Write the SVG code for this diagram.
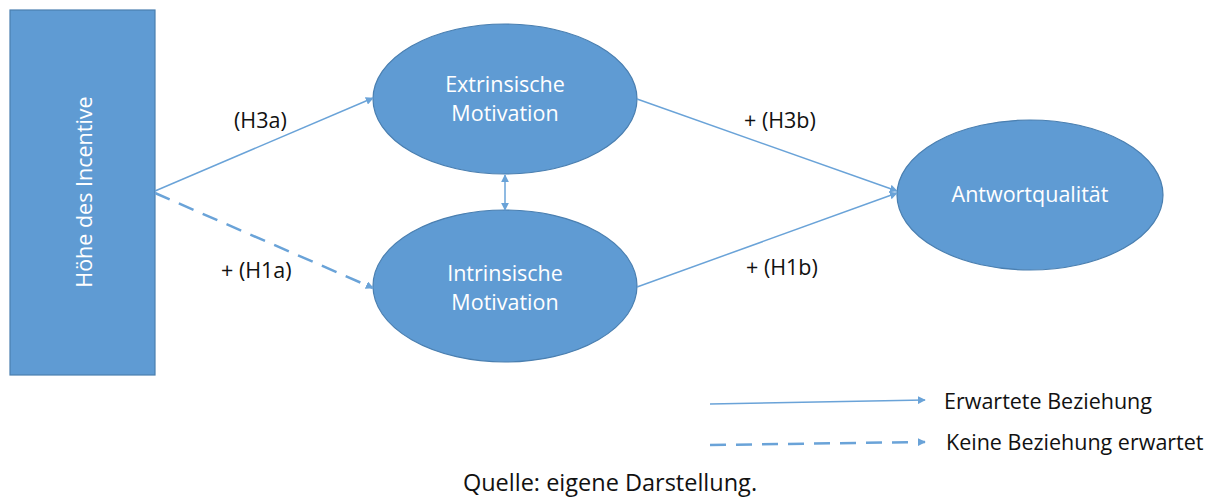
<svg xmlns="http://www.w3.org/2000/svg" width="1218" height="499" viewBox="0 0 1218 499">
<style>
.node{fill:#5f9bd3;stroke:#4a7fb0;stroke-width:1.2}
.nt{font-family:"Open Sans","Liberation Sans",sans-serif;font-size:21.5px;fill:#ffffff;text-anchor:middle}
.lbl{font-family:"Open Sans","Liberation Sans",sans-serif;font-size:21.5px;fill:#111111}
.cap{font-family:"Open Sans","Liberation Sans",sans-serif;font-size:23.5px;fill:#111111;text-anchor:middle}
.c{stroke:#6aa3d8;stroke-width:1.5;fill:none}
.d{stroke:#6aa3d8;stroke-width:2.5;fill:none;stroke-dasharray:16,10}
</style>
<defs>
<marker id="ah" viewBox="0 0 10 10" refX="9" refY="5" markerWidth="8" markerHeight="8" markerUnits="userSpaceOnUse" orient="auto-start-reverse">
<path d="M0,0 L10,5 L0,10 z" fill="#6aa3d8"/>
</marker>
</defs>
<g id="node-hoehe">
<rect class="node" x="10" y="10" width="145" height="365"/>
<text class="nt" transform="translate(92,192) rotate(-90)">Höhe des Incentive</text>
</g>
<g id="node-extrinsisch">
<ellipse class="node" cx="505" cy="99" rx="132" ry="75"/>
<text class="nt" x="505" y="92">Extrinsische</text>
<text class="nt" x="505" y="121">Motivation</text>
</g>
<g id="node-intrinsisch">
<ellipse class="node" cx="505" cy="286" rx="132" ry="76"/>
<text class="nt" x="505" y="281">Intrinsische</text>
<text class="nt" x="505" y="310">Motivation</text>
</g>
<g id="node-antwort">
<ellipse class="node" cx="1030" cy="195" rx="133" ry="75"/>
<text class="nt" x="1030" y="202">Antwortqualität</text>
</g>
<g id="connectors">
<line class="c" x1="155" y1="191" x2="373" y2="98" marker-end="url(#ah)"/>
<line class="d" x1="155" y1="193" x2="373" y2="288" marker-end="url(#ah)"/>
<line class="c" x1="637" y1="99" x2="897" y2="191" marker-end="url(#ah)"/>
<line class="c" x1="637" y1="287" x2="897" y2="193" marker-end="url(#ah)"/>
<line class="c" x1="505" y1="175" x2="505" y2="210" stroke-width="2" marker-start="url(#ah)" marker-end="url(#ah)"/>
<line class="c" x1="710" y1="404" x2="925" y2="400" marker-end="url(#ah)"/>
<line class="d" x1="710" y1="445" x2="925" y2="442" stroke-dasharray="18,9" marker-end="url(#ah)"/>
</g>
<g id="labels">
<text class="lbl" x="234" y="128">(H3a)</text>
<text class="lbl" x="221" y="278">+ (H1a)</text>
<text class="lbl" x="744" y="128">+ (H3b)</text>
<text class="lbl" x="746" y="275">+ (H1b)</text>
<text class="lbl" x="944" y="409">Erwartete Beziehung</text>
<text class="lbl" x="946" y="450">Keine Beziehung erwartet</text>
<text class="cap" x="610" y="491">Quelle: eigene Darstellung.</text>
</g>
</svg>
